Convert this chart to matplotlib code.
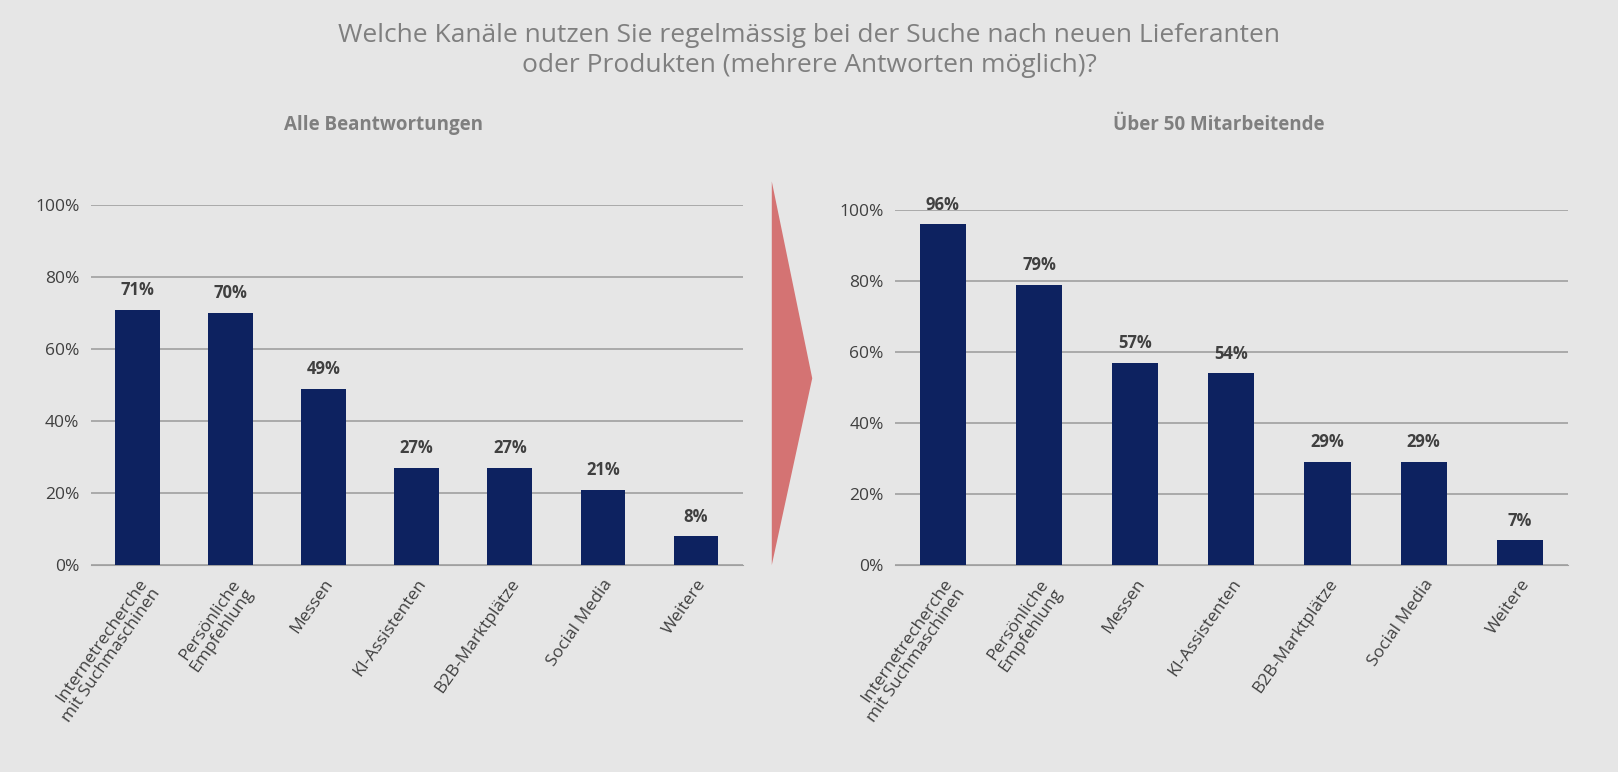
import matplotlib.pyplot as plt
from matplotlib.patches import Polygon

plt.rcParams['font.family'] = ['Open Sans', 'DejaVu Sans']

categories = ['Internetrecherche\nmit Suchmaschinen', 'Persönliche\nEmpfehlung', 'Messen',
              'KI-Assistenten', 'B2B-Marktplätze', 'Social Media', 'Weitere']
alle = [71, 70, 49, 27, 27, 21, 8]
ueber50 = [96, 79, 57, 54, 29, 29, 7]

bg = '#e6e6e6'
bar_color = '#0d2260'
grey = '#7f7f7f'

fig = plt.figure(figsize=(16.18, 7.72), dpi=100, facecolor=bg)
fig.text(0.5, 0.97, 'Welche Kanäle nutzen Sie regelmässig bei der Suche nach neuen Lieferanten\noder Produkten (mehrere Antworten möglich)?',
         ha='center', va='top', fontsize=19, color=grey, linespacing=1.25)
fig.text(0.237, 0.838, 'Alle Beantwortungen', ha='center', va='center', fontsize=13.5, fontweight='bold', color=grey)
fig.text(0.753, 0.838, 'Über 50 Mitarbeitende', ha='center', va='center', fontsize=13.5, fontweight='bold', color=grey)

# red arrow between the panels
fig.patches.append(Polygon([[0.477, 0.765], [0.502, 0.51], [0.477, 0.268]], closed=True,
                           transform=fig.transFigure, facecolor='#d47373', edgecolor='none'))


def draw(ax, values):
    ax.set_facecolor(bg)
    x = range(len(categories))
    ax.bar(x, values, width=0.48, color=bar_color, zorder=3)
    for i, v in zip(x, values):
        ax.text(i, v + 3, f'{v}%', ha='center', va='bottom', fontsize=12, fontweight='bold', color='#404040')
    ax.set_ylim(0, 100)
    ax.set_xlim(-0.5, len(categories) - 0.5)
    ax.set_yticks(range(0, 101, 20))
    ax.set_yticklabels([f'{t}%' for t in range(0, 101, 20)], fontsize=12.5, color='#404040')
    ax.set_xticks(list(x))
    ax.set_xticklabels(categories, rotation=55, ha='right', rotation_mode='anchor', fontsize=12.5,
                       color='#404040', linespacing=1.0)
    ax.yaxis.grid(True, color='#a0a0a0', linewidth=1.2, zorder=0)
    for s in ['top', 'right', 'left']:
        ax.spines[s].set_visible(False)
    ax.spines['bottom'].set_color('#a0a0a0')
    ax.tick_params(axis='y', length=0, pad=8)
    ax.tick_params(axis='x', length=0, pad=8)


ax1 = fig.add_axes([0.056, 0.268, 0.403, 0.466])
draw(ax1, alle)
ax2 = fig.add_axes([0.553, 0.268, 0.416, 0.46])
draw(ax2, ueber50)

fig.savefig('out.png', dpi=100, facecolor=bg)
